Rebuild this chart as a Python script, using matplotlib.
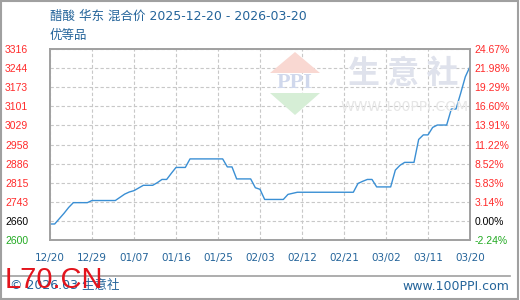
import numpy as np
import pandas as pd
import matplotlib
matplotlib.use("Agg")
import matplotlib.pyplot as plt
from matplotlib.patches import Polygon, Rectangle
from matplotlib.lines import Line2D

# daily price, 2025-12-20 .. 2026-03-20
start_date = "2025-12-20"
prices = [
    2660, 2660, 2680, 2700, 2722, 2740, 2740, 2740, 2740, 2748,
    2748, 2748, 2748, 2748, 2748, 2760, 2772, 2780, 2785, 2795,
    2805, 2805, 2805, 2815, 2827, 2827, 2850, 2872, 2872, 2872,
    2904, 2904, 2904, 2904, 2904, 2904, 2904, 2904, 2874, 2874,
    2829, 2829, 2829, 2829, 2796, 2790, 2752, 2752, 2752, 2752,
    2752, 2771, 2775, 2779, 2779, 2779, 2779, 2779, 2779, 2779,
    2779, 2779, 2779, 2779, 2779, 2779, 2812, 2820, 2827, 2827,
    2799, 2799, 2799, 2799, 2862, 2880, 2891, 2891, 2891, 2977,
    2994, 2994, 3022, 3031, 3031, 3031, 3091, 3091, 3150, 3212,
    3250,
]
x_labels = ["12/20", "12/29", "01/07", "01/16", "01/25", "02/03",
            "02/12", "02/21", "03/02", "03/11", "03/20"]
left_labels = ["2600", "2660", "2743", "2815", "2886", "2958",
               "3029", "3101", "3173", "3244", "3316"]
right_labels = ["-2.24%", "0.00%", "3.14%", "5.83%", "8.52%", "11.22%",
                "13.91%", "16.60%", "19.29%", "21.98%", "24.67%"]
y_min, y_max = 2600, 3316

dates = pd.date_range(start_date, periods=len(prices), freq="D")
tick_dates = dates[::9]

W, H = 520, 300
fig = plt.figure(figsize=(W / 100, H / 100), dpi=100)
ax = fig.add_axes([50 / W, 60 / H, 420 / W, 191 / H])

blue_txt = "#24649a"
red_txt = "#ff2a2a"

ax.plot(dates, prices, color="#3a8fd4", lw=1.0, zorder=3)
ax.set_xlim(dates[0], dates[-1])
ax.set_ylim(y_min, y_max)

yt = np.linspace(y_min, y_max, len(left_labels))
ax.set_yticks(yt)
ax.set_xticks(tick_dates)
ax.set_xticklabels(x_labels, fontsize=7.5, color=blue_txt, family="DejaVu Sans")
ax.grid(True, color="#c8c8c8", ls=(0, (3, 2)), lw=0.8)
ax.tick_params(length=0)
ax.tick_params(axis="x", pad=9)

ax.set_yticklabels(left_labels, fontsize=7.5, family="Liberation Sans", ha="left")
ax.tick_params(axis="y", pad=45 * 0.72)
for lab in ax.get_yticklabels():
    lab.set_color(red_txt)
ax.get_yticklabels()[0].set_color("#22aa22")
ax.get_yticklabels()[1].set_color("black")

ax2 = ax.twinx()
ax2.set_ylim(y_min, y_max)
ax2.set_yticks(yt)
ax2.set_yticklabels(right_labels, fontsize=7.5, family="Liberation Sans")
ax2.tick_params(length=0, pad=3)
for lab in ax2.get_yticklabels():
    lab.set_color(red_txt)
ax2.get_yticklabels()[0].set_color("#22aa22")
ax2.get_yticklabels()[1].set_color("black")

for a in (ax, ax2):
    for s in a.spines.values():
        s.set_color("#a0a0a0")
        s.set_linewidth(1.2)

# watermark logo
def fx(px):
    return px / W

def fy(py):
    return 1 - py / H

fig.patches.append(Polygon([(fx(270), fy(73)), (fx(320), fy(73)), (fx(295), fy(52))],
                           closed=True, transform=fig.transFigure,
                           facecolor="#f9d8d2", edgecolor="none", zorder=1))
fig.patches.append(Polygon([(fx(270), fy(93)), (fx(320), fy(93)), (fx(295), fy(115))],
                           closed=True, transform=fig.transFigure,
                           facecolor="#d6eed6", edgecolor="none", zorder=1))
fig.text(fx(295), fy(83), "PPI", ha="center", va="center", fontsize=16,
         family="Liberation Serif", weight="bold", color="#d0d8ec", zorder=1)
fig.text(fx(403), fy(74), "生 意 社", ha="center", va="center", fontsize=23,
         family="Noto Sans CJK SC", weight="bold", color="#dfe2ec", zorder=1)
fig.text(fx(405), fy(107), "WWW.100PPI.COM", ha="center", va="center", fontsize=10,
         family="DejaVu Sans", color="#e6e6e6", zorder=1)

fam = ["DejaVu Sans", "Noto Sans CJK SC"]
fig.text(fx(50), fy(16), "醋酸 华东 混合价 2025-12-20 - 2026-03-20", fontsize=9,
         family=fam, color=blue_txt, va="center")
fig.text(fx(50), fy(35), "优等品", fontsize=9, family=fam, color=blue_txt, va="center")

fig.lines.append(Line2D([fx(1), fx(510)], [fy(275.5), fy(275.5)],
                        transform=fig.transFigure, color="#a0a0a0", lw=1.2))
fig.text(fx(10), fy(286), "© 2026.03 生意社", fontsize=9, family=fam,
         color=blue_txt, va="center")
fig.text(fx(509), fy(286), "www.100PPI.com", fontsize=9, family="DejaVu Sans",
         color=blue_txt, va="center", ha="right")
fig.text(fx(5), fy(280), "L70.CN", fontsize=21, family="Liberation Sans",
         color="#e3141c", va="center", ha="left")

fig.patches.append(Rectangle((0.002, 0.003), 0.994, 0.994, transform=fig.transFigure,
                             fill=False, edgecolor="#a0a0a0", lw=1.5))

fig.savefig("out.png", dpi=100)
